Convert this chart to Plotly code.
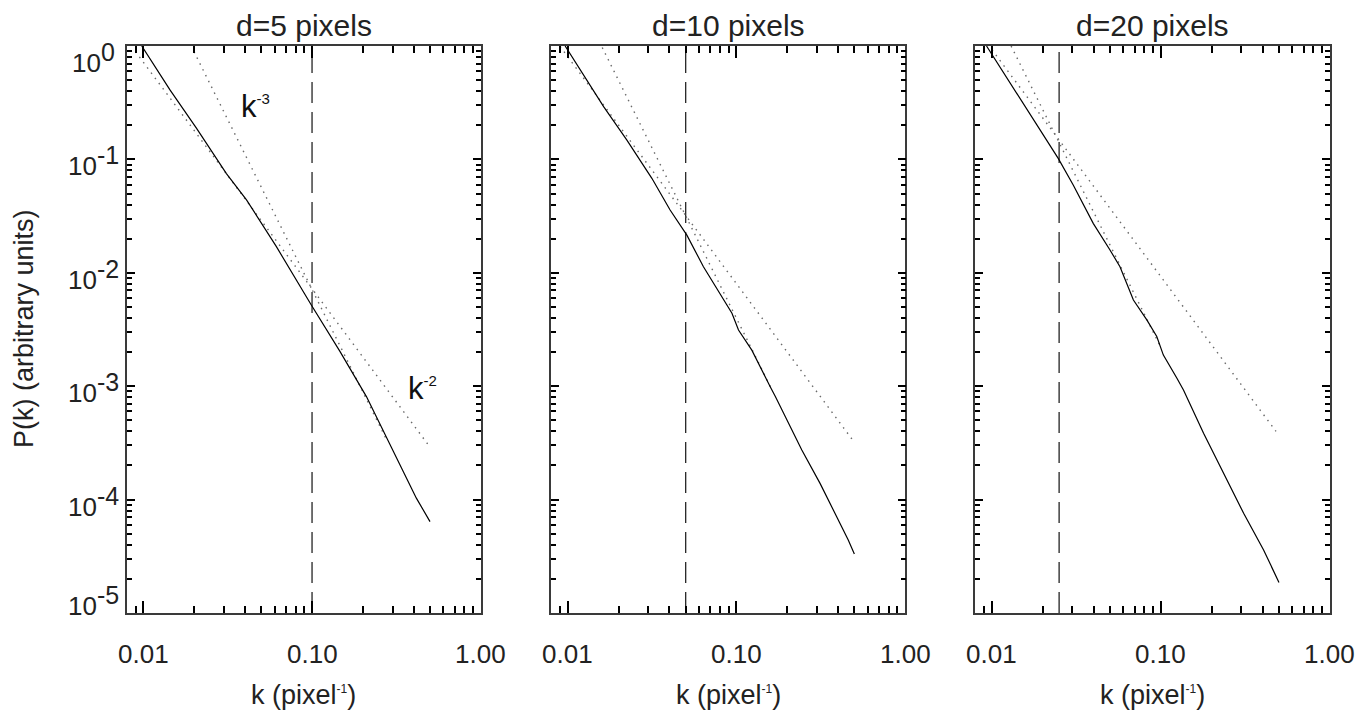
import plotly.graph_objects as go
import math

# ---------------- data ----------------
panel_titles = ["d=5 pixels", "d=10 pixels", "d=20 pixels"]
k_cut = [0.1, 0.05, 0.025]

k_d5 = [0.0098, 0.0144, 0.0207, 0.0311, 0.0409, 0.0615, 0.099, 0.146, 0.21, 0.346, 0.415, 0.50]
P_d5 = [1.0, 0.41, 0.188, 0.075, 0.044, 0.017, 0.0052, 0.00204, 8.1e-4, 1.82e-4, 1.03e-4, 6.4e-5]

k_d10 = [0.00964, 0.0163, 0.0224, 0.0315, 0.0404, 0.0508, 0.0637, 0.080, 0.094, 0.1028,
         0.1233, 0.1585, 0.170, 0.244, 0.313, 0.460, 0.50]
P_d10 = [1.0, 0.292, 0.148, 0.0681, 0.0358, 0.0215, 0.0113, 0.00659, 0.0044, 0.00313,
         0.00208, 9.9e-4, 8.1e-4, 2.74e-4, 1.39e-4, 4.41e-5, 3.31e-5]

k_d20 = [0.0093, 0.0168, 0.0193, 0.0247, 0.0303, 0.0398, 0.050, 0.0573, 0.0688, 0.0826,
         0.0946, 0.1035, 0.1245, 0.1361, 0.179, 0.225, 0.309, 0.4055, 0.50]
P_d20 = [1.0, 0.255, 0.182, 0.102, 0.0594, 0.0273, 0.0159, 0.0113, 0.00575, 0.00384,
         0.00274, 0.00188, 0.001175, 9.25e-4, 3.85e-4, 1.95e-4, 7.57e-5, 3.6e-5, 1.86e-5]

# reference power laws (end points)
k2_k = [[0.009, 0.5], [0.009, 0.5], [0.0095, 0.48]]
k2_P = [[0.89, 2.9e-4], [0.99, 3.2e-4], [1.03, 4.0e-4]]
k3_k = [[0.020, 0.28], [0.016, 0.16], [0.013, 0.10]]
k3_P = [[0.89, 3.25e-4], [0.97, 9.7e-4], [1.0, 2.2e-3]]

x_tickvals = [0.01, 0.1, 1.0]
x_ticktext = ["0.01", "0.10", "1.00"]
y_tickvals = [1, 1e-1, 1e-2, 1e-3, 1e-4, 1e-5]
y_exps = ["0", "-1", "-2", "-3", "-4", "-5"]

spectra = [(k_d5, P_d5), (k_d10, P_d10), (k_d20, P_d20)]

# ---------------- styling ----------------
W, H = 1372, 712
FONT = "Liberation Sans, Arial, Helvetica, sans-serif"
TXT = "#222222"
panel_px = [(126.7, 481.0), (551.3, 905.3), (975.3, 1330.0)]
top_px, bot_px = 46.0, 613.0

x_minor = [m * 10.0 ** e for e in (-3, -2, -1) for m in range(2, 10)]
x_minor = [v for v in x_minor if v >= 0.0079 and v < 1.0]
y_minor = [m * 10.0 ** e for e in (-5, -4, -3, -2, -1) for m in range(2, 10)]

fig = go.Figure()

for i in range(3):
    xa = "x" if i == 0 else f"x{i+1}"
    ya = "y" if i == 0 else f"y{i+1}"
    k, P = spectra[i]
    fig.add_trace(go.Scatter(x=[k_cut[i], k_cut[i]], y=[1e-5, 1.0], mode="lines",
                             line=dict(color="#111111", width=1.2, dash="21px,9px"),
                             xaxis=xa, yaxis=ya, showlegend=False, hoverinfo="skip"))
    fig.add_trace(go.Scatter(x=k2_k[i], y=k2_P[i], mode="lines",
                             line=dict(color="#6a6a6a", width=1.4, dash="1.5px,5px"),
                             xaxis=xa, yaxis=ya, showlegend=False, hoverinfo="skip"))
    fig.add_trace(go.Scatter(x=k3_k[i], y=k3_P[i], mode="lines",
                             line=dict(color="#6a6a6a", width=1.4, dash="1.5px,5px"),
                             xaxis=xa, yaxis=ya, showlegend=False, hoverinfo="skip"))
    fig.add_trace(go.Scatter(x=k, y=P, mode="lines",
                             line=dict(color="#000000", width=1.2),
                             xaxis=xa, yaxis=ya, showlegend=False))

    x0, x1 = panel_px[i]
    common = dict(showgrid=False, zeroline=False, showline=True, linecolor="#3a3a3a",
                  linewidth=1.6, mirror="ticks", ticks="inside", tickcolor="#000000",
                  tickwidth=1.5, showticklabels=False)
    xaxis = dict(type="log", range=[-2.098, 0.001], domain=[x0 / W, x1 / W],
                 anchor=ya, tickmode="array", tickvals=x_tickvals, ticklen=12,
                 minor=dict(tickmode="array", tickvals=x_minor, ticks="inside",
                            ticklen=7, tickcolor="#000000", tickwidth=1.5, showgrid=False),
                 **common)
    yaxis = dict(type="log", range=[-5, 0], domain=[1 - bot_px / H, 1 - top_px / H],
                 anchor=xa, tickmode="array", tickvals=y_tickvals, ticklen=8,
                 minor=dict(tickmode="array", tickvals=y_minor, ticks="inside",
                            ticklen=5, tickcolor="#000000", tickwidth=1.5, showgrid=False),
                 **common)
    key = "" if i == 0 else str(i + 1)
    fig.layout["xaxis" + key] = xaxis
    fig.layout["yaxis" + key] = yaxis

    # x tick labels
    for v, t in zip(x_tickvals, x_ticktext):
        fig.add_annotation(text=t, xref=xa, yref="paper", x=math.log10(v), y=1 - 653.5 / H,
                           xanchor="center", yanchor="middle", showarrow=False,
                           font=dict(family=FONT, size=26, color=TXT))

    cx = (x0 + x1) / 2 / W
    fig.add_annotation(text=panel_titles[i], xref="paper", yref="paper", x=cx, y=1 - 25 / H,
                       xanchor="center", yanchor="middle", showarrow=False,
                       font=dict(family=FONT, size=30, color=TXT))
    fig.add_annotation(text="k (pixel<sup><span style='font-size:12px'>-1</span></sup>)",
                       xref="paper", yref="paper", x=cx, y=1 - 695 / H,
                       xanchor="center", yanchor="middle", showarrow=False,
                       font=dict(family=FONT, size=27, color=TXT))

# y tick labels (IDL centres them and nudges the two end labels inward)
for v, e in zip(y_tickvals, y_exps):
    shift = -12 if v == 1 else (12 if v == 1e-5 else -2)
    fig.add_annotation(text=f"10<sup><span style='font-size:25px'>{e}</span></sup>",
                       xref="paper", yref="y", x=94 / W, y=math.log10(v),
                       xanchor="center", yanchor="middle", yshift=shift, showarrow=False,
                       font=dict(family=FONT, size=26, color=TXT))

fig.add_annotation(text="P(k) (arbitrary units)", xref="paper", yref="paper",
                   x=24 / W, y=1 - 329 / H, textangle=-90, xanchor="center", yanchor="middle",
                   showarrow=False, font=dict(family=FONT, size=27, color=TXT))
fig.add_annotation(text="k<sup><span style='font-size:15px'>-3</span></sup>", xref="x", yref="y",
                   x=math.log10(0.046), y=math.log10(0.29), showarrow=False,
                   font=dict(family=FONT, size=31, color="#111111"))
fig.add_annotation(text="k<sup><span style='font-size:15px'>-2</span></sup>", xref="x", yref="y",
                   x=math.log10(0.452), y=math.log10(9.6e-4), showarrow=False,
                   font=dict(family=FONT, size=31, color="#111111"))

fig.update_layout(width=W, height=H, margin=dict(l=0, r=0, t=0, b=0),
                  paper_bgcolor="white", plot_bgcolor="white",
                  showlegend=False)
fig.update_xaxes(automargin=False)
fig.update_yaxes(automargin=False)

fig.write_html("out.html")
